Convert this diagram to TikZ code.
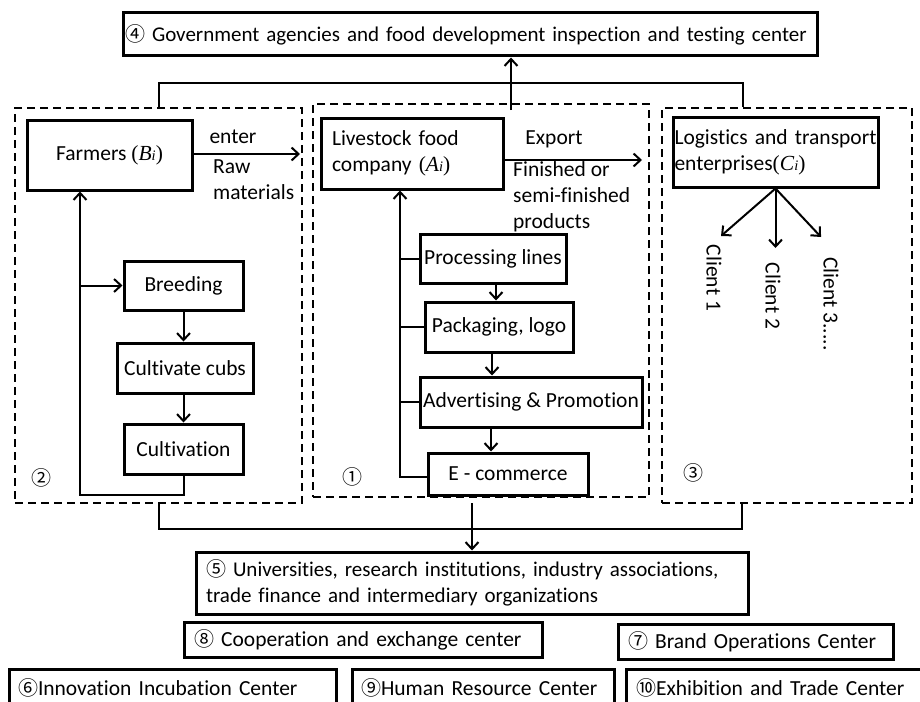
\documentclass[tikz,border=0pt]{standalone}
\usepackage{fontspec}
\setmainfont{Carlito}[Ligatures=NoCommon]
\newfontfamily\tnr{Liberation Serif}
\newfontfamily\cfont{Noto Sans CJK SC}
\usetikzlibrary{arrows.meta}
\newcommand\dfs{\fontsize{21.5}{26}\selectfont}
\newcommand\sfs{\fontsize{21}{26}\selectfont}
\newcommand\cnum[1]{{\cfont\fontsize{20}{20}\selectfont #1}}
\newcommand\mi[1]{{\tnr(\textit{#1}{\fontsize{14.5}{14}\selectfont\textit{i}})}}
\begin{document}
\begin{tikzpicture}[x=1pt,y=-1pt]
\tikzset{
 sbox/.style={draw, line width=3pt, inner sep=0pt, align=center, font=\dfs},
 dbox/.style={draw, dash pattern=on 8pt off 5pt, line width=2.2pt, inner sep=0pt},
 arr/.style={line width=2pt, -{Straight Barb[length=7pt,width=13pt]}},
 ln/.style={line width=2pt},
 lbl/.style={font=\dfs, inner sep=0pt, align=left},
}
\fill[white] (0,0) rectangle (920,701);
\useasboundingbox (0,0) rectangle (920,701);
\clip (0,0) rectangle (920,701);

% dashed groups
\node[dbox, minimum width=287pt, minimum height=395pt] (d2) at (158.5,305.5) {};
\node[dbox, minimum width=336pt, minimum height=393pt] (d1) at (481,300.5) {};
\node[dbox, minimum width=250pt, minimum height=395pt] (d3) at (787,305.5) {};

% top box
\node[sbox, font=\sfs, text width=690pt, inner xsep=2pt, minimum height=43pt, align=left] (gov) at (470,34.5)
  {\mbox{\cnum{④} Government agencies and food development inspection and testing center}};

% main boxes
\node[sbox, minimum width=165pt, minimum height=70pt] (farm) at (109.5,155) {Farmers \mi{B}};
\node[sbox, text width=160pt, inner xsep=11pt, minimum height=71pt, align=left] (live) at (412,153.5)
  {Livestock food\\company \mi{A}};
\node[sbox, text width=202pt, inner xsep=1.5pt, minimum height=70pt, align=left] (log) at (775.5,152)
  {\mbox{Logistics and transport}\\enterprises\mi{C}};

% farmers chain
\node[sbox, minimum width=119pt, minimum height=49pt] (breed) at (183.5,285.5) {Breeding};
\node[sbox, minimum width=136pt, minimum height=50pt] (cubs) at (185,368) {Cultivate cubs};
\node[sbox, minimum width=119pt, minimum height=50pt] (cult) at (183.5,449) {Cultivation};

% company chain
\node[sbox, minimum width=146pt, minimum height=49pt] (proc) at (493,258.5) {Processing lines};
\node[sbox, minimum width=148pt, minimum height=50pt] (pack) at (499,327) {Packaging, logo};
\node[sbox, minimum width=222pt, minimum height=50pt] (adv) at (531,402) {Advertising \& Promotion};
\node[sbox, minimum width=160pt, minimum height=42pt] (ecom) at (508,474) {E - commerce};

% labels
\node[lbl] (enter) at (233,137) {enter};
\node[lbl, anchor=west] (raw) at (213,180) {Raw\\materials};
\node[lbl] (export) at (554,139) {Export};
\node[lbl, anchor=west] (fin) at (513,197) {Finished or\\semi-finished\\products};
\node[lbl] (n2) at (41,478) {\cnum{②}};
\node[lbl] (n1) at (352,477) {\cnum{①}};
\node[lbl] (n3) at (693,473) {\cnum{③}};
\node[lbl, rotate=-90] (cl1) at (714,278) {Client 1};
\node[lbl, rotate=-90] (cl2) at (773,296) {Client 2};
\node[lbl, rotate=-90] (cl3) at (831,304) {Client 3.....};

% bottom boxes
\node[sbox, font=\sfs, text width=532pt, inner xsep=10pt, minimum height=62pt, align=left] (univ) at (472,583)
  {\mbox{\cnum{⑤} Universities, research institutions, industry associations,}\\\mbox{trade finance and intermediary organizations}};
\node[sbox, text width=338pt, inner xsep=10pt, minimum height=35pt, align=left] (coop) at (363,639.5)
  {\mbox{\cnum{⑧} Cooperation and exchange center}};
\node[sbox, text width=255pt, inner xsep=10pt, minimum height=35pt, align=left] (brand) at (755.5,641.5)
  {\mbox{\cnum{⑦} Brand Operations Center}};
\node[sbox, text width=309pt, inner xsep=9pt, minimum height=38pt, align=left] (innov) at (172.5,688)
  {\mbox{\cnum{⑥}Innovation Incubation Center}};
\node[sbox, text width=244pt, inner xsep=9pt, minimum height=38pt, align=left] (hr) at (483,688)
  {\mbox{\cnum{⑨}Human Resource Center}};
\node[sbox, text width=294pt, inner xsep=10pt, minimum height=38pt, align=left] (exh) at (783,688)
  {\mbox{\cnum{⑩}Exhibition and Trade Center}};

% coordinates
\coordinate (tbr) at (743,83);
\coordinate (gup) at (511,110);
\coordinate (bbr) at (742,529);
\coordinate (bdn) at (472,503);
\coordinate (rawtip) at (300,154);
\coordinate (exptip) at (642,160);
\coordinate (c1) at (721,236);
\coordinate (c2) at (775.5,248);
\coordinate (c3) at (821,237);
\coordinate (lp) at (80,495);
\coordinate (mv) at (400,477);

% brackets
\draw[ln] (d2.north) |- (tbr) -- (tbr |- d3.north);
\draw[arr] (gup) -- (gup |- gov.south);
\draw[ln] (d2.south) |- (bbr) -- (bbr |- d3.south);
\draw[arr] (bdn) -- (univ.north);

% flows
\draw[arr] (farm.east |- rawtip) -- (rawtip);
\draw[arr] (live.east |- exptip) -- (exptip);
\draw[arr] (log.south) -- (c1);
\draw[arr] (log.south) -- (c2);
\draw[arr] (log.south) -- (c3);

% farmer loop
\draw[arr] (cult.south) |- (lp) -- (lp |- farm.south);
\draw[arr] (lp |- breed.west) -- (breed.west);
\draw[arr] (breed.south) -- (breed.south |- cubs.north);
\draw[arr] (cult.north |- cubs.south) -- (cult.north);

% company loop
\draw[arr] (mv -| ecom.west) -- (mv) -- (mv |- live.south);
\draw[ln] (mv |- proc.west) -- (proc.west);
\draw[ln] (mv |- pack.west) -- (pack.west);
\draw[ln] (mv |- adv.west) -- (adv.west);
\draw[arr] ([xshift=3pt]proc.south) -- ([xshift=3pt]proc.south |- pack.north);
\draw[arr] ([xshift=-7pt]pack.south) -- ([xshift=-7pt]pack.south |- adv.north);
\draw[arr] ([xshift=-17pt]ecom.north |- adv.south) -- ([xshift=-17pt]ecom.north);
\end{tikzpicture}
\end{document}
